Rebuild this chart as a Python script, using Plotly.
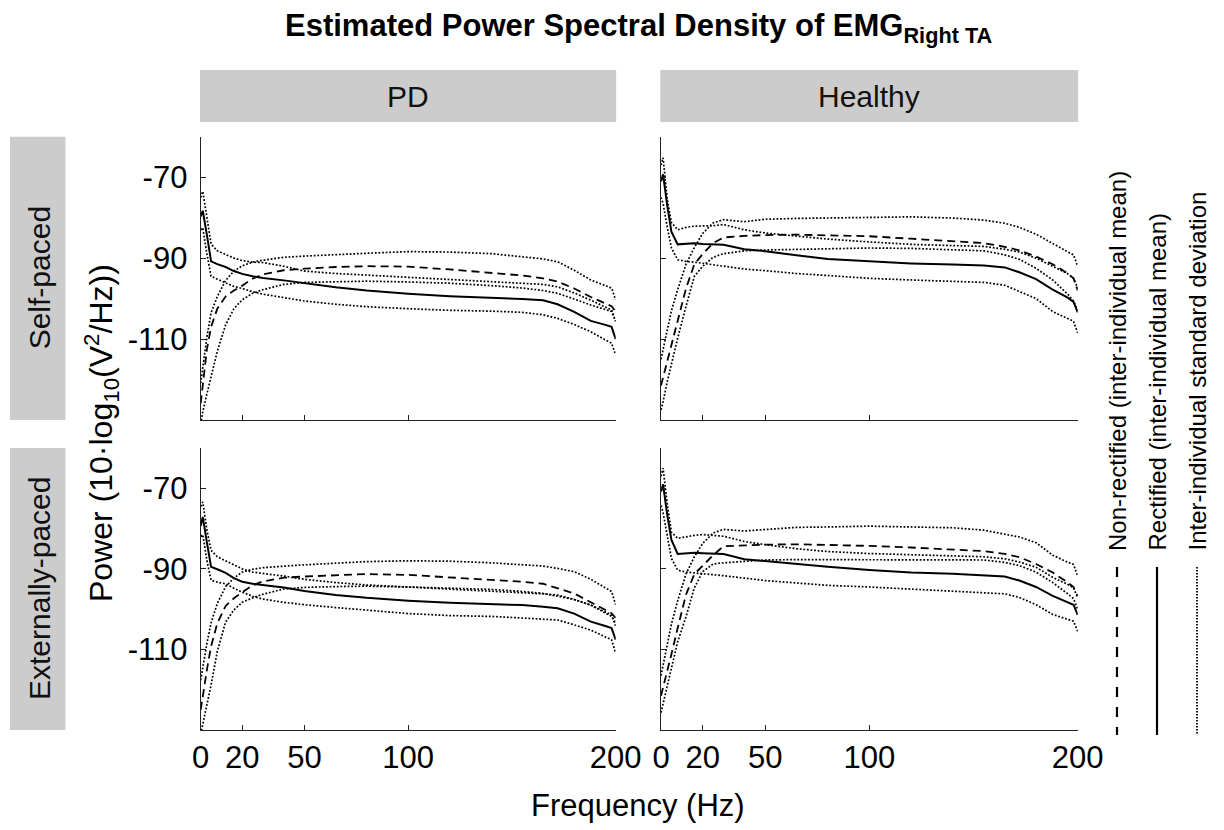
import plotly.graph_objects as go

# ---------------- data ----------------
FREQ = [0, 1, 3, 5, 8, 12, 16, 20, 25, 30, 40, 50, 65, 80, 100, 120, 140,
        155, 165, 172, 180, 188, 195, 198, 200]

COLUMNS = ["PD", "Healthy"]
ROWS = ["Self-paced", "Externally-paced"]
X_TICKS = [0, 20, 50, 100, 200]
Y_TICKS = [-70, -90, -110]

# PD, self-paced
PD_SELF_RECT = [-79.7, -78.3, -84.3, -90.8, -91.5, -92.2, -93.2, -93.9, -94.5, -94.9, -95.5, -96.2, -97.2,
                -98.0, -98.8, -99.4, -99.7, -100.1, -100.4, -101.4, -103.3, -105.5, -106.5, -107.0, -110.0]
PD_SELF_RECT_UP = [-75.0, -73.5, -80.0, -86.5, -88.2, -89.2, -90.0, -90.6, -91.0, -91.1, -92.0, -93.2, -93.8,
                   -94.2, -94.7, -95.2, -95.7, -96.1, -96.5, -97.1, -98.6, -100.4, -102.0, -102.8, -105.6]
PD_SELF_RECT_LO = [-83.0, -82.5, -89.0, -94.5, -95.2, -96.2, -97.0, -97.5, -98.3, -98.9, -99.8, -100.6, -101.4,
                   -102.0, -102.5, -102.9, -103.1, -103.4, -104.0, -104.9, -106.4, -108.2, -110.2, -111.0, -113.9]
PD_SELF_NONRECT = [-125.9, -121.0, -112.5, -107.0, -102.5, -99.5, -98.0, -96.8, -95.1, -94.0, -93.0, -92.6, -92.2,
                   -92.0, -92.1, -92.8, -93.7, -94.3, -95.0, -95.8, -97.5, -99.6, -101.2, -101.9, -103.2]
PD_SELF_NONRECT_UP = [-120.9, -117.0, -109.5, -103.5, -99.5, -95.5, -93.2, -91.9, -91.0, -90.5, -89.8, -89.5, -89.1,
                      -88.8, -88.4, -88.5, -88.9, -89.6, -90.2, -90.9, -93.0, -95.4, -96.9, -97.4, -100.3]
PD_SELF_NONRECT_LO = [-131.0, -128.0, -123.5, -119.0, -113.0, -106.5, -102.5, -100.3, -98.7, -97.8, -96.5, -96.0, -95.8,
                      -95.7, -95.9, -96.2, -96.8, -97.4, -98.0, -98.7, -100.1, -101.6, -102.7, -103.2, -105.6]

# Healthy, self-paced
HC_SELF_RECT = [-71.0, -69.3, -77.0, -83.5, -86.6, -86.4, -86.3, -86.5, -86.6, -86.7, -87.8, -88.3, -89.3,
                -90.2, -90.8, -91.3, -91.6, -91.8, -92.3, -93.5, -95.2, -97.8, -99.7, -100.8, -103.4]
HC_SELF_RECT_UP = [-67.0, -65.2, -75.5, -81.2, -83.0, -82.4, -82.1, -82.1, -82.0, -81.7, -83.0, -83.8, -84.5,
                   -85.3, -86.0, -86.6, -86.9, -87.1, -87.8, -88.5, -90.0, -92.0, -93.8, -95.0, -97.4]
HC_SELF_RECT_LO = [-75.0, -76.5, -82.3, -87.5, -90.4, -90.8, -91.0, -91.3, -91.5, -92.0, -92.7, -93.1, -93.8,
                   -94.3, -95.0, -95.4, -95.7, -96.0, -96.7, -98.2, -100.0, -103.2, -104.9, -105.6, -108.5]
HC_SELF_NONRECT = [-121.5, -119.5, -115.4, -111.3, -104.9, -97.5, -91.5, -89.0, -86.3, -84.9, -84.5, -84.3, -84.2,
                   -84.3, -84.6, -85.2, -85.8, -86.3, -87.2, -88.1, -89.6, -91.5, -93.7, -95.0, -98.0]
HC_SELF_NONRECT_UP = [-115.0, -112.5, -107.6, -103.0, -97.8, -91.5, -87.4, -83.9, -81.3, -80.5, -81.0, -80.4, -80.2,
                      -80.1, -79.9, -79.8, -80.1, -80.6, -81.4, -82.4, -84.1, -86.5, -88.4, -89.2, -92.0]
HC_SELF_NONRECT_LO = [-127.5, -125.5, -120.5, -116.0, -109.8, -101.9, -94.5, -92.0, -89.8, -88.9, -88.2, -88.0, -87.8,
                      -87.7, -87.5, -87.6, -87.9, -88.2, -89.2, -90.3, -92.5, -95.4, -98.8, -100.6, -102.8]

# PD, externally-paced
PD_EXT_RECT = [-79.4, -77.1, -83.5, -89.5, -90.1, -91.0, -92.3, -93.2, -93.7, -94.0, -94.6, -95.5, -96.5,
               -97.2, -97.9, -98.4, -98.8, -99.0, -99.4, -99.8, -101.1, -103.1, -104.2, -104.7, -107.6]
PD_EXT_RECT_UP = [-74.5, -73.4, -80.4, -85.4, -87.0, -88.0, -89.0, -90.0, -90.8, -91.1, -91.8, -92.6, -93.4,
                  -94.0, -94.5, -95.0, -95.6, -96.0, -96.2, -96.5, -97.6, -99.0, -100.6, -101.4, -104.3]
PD_EXT_RECT_LO = [-81.9, -81.5, -88.0, -92.8, -93.3, -93.7, -94.8, -95.8, -96.8, -97.5, -98.3, -98.9, -99.6,
                  -100.2, -101.1, -101.6, -101.8, -102.2, -102.5, -102.7, -103.9, -105.2, -106.9, -107.6, -110.9]
PD_EXT_NONRECT = [-125.0, -121.5, -115.0, -109.2, -103.5, -99.2, -97.3, -95.8, -94.1, -93.1, -92.2, -91.9, -91.6,
                  -91.3, -91.5, -92.1, -92.7, -93.2, -93.7, -94.8, -96.1, -98.3, -100.1, -101.0, -102.2]
PD_EXT_NONRECT_UP = [-117.6, -114.5, -108.5, -103.4, -98.6, -94.4, -92.3, -90.8, -90.1, -89.7, -89.3, -89.0, -88.6,
                     -88.2, -88.0, -88.1, -88.5, -89.0, -89.3, -89.9, -90.7, -92.6, -94.6, -95.6, -98.9]
PD_EXT_NONRECT_LO = [-131.0, -128.5, -124.0, -118.8, -110.5, -103.2, -100.2, -98.3, -97.2, -96.3, -95.0, -94.6, -94.4,
                     -94.3, -94.5, -94.8, -95.1, -95.6, -96.1, -96.8, -97.6, -99.0, -100.9, -101.8, -103.5]

# Healthy, externally-paced
HC_EXT_RECT = [-70.8, -69.0, -76.6, -82.8, -86.3, -86.2, -86.0, -86.1, -86.2, -86.3, -87.6, -88.1, -88.8,
               -89.5, -90.3, -90.9, -91.2, -91.6, -91.9, -92.9, -94.5, -96.7, -98.1, -98.9, -101.4]
HC_EXT_RECT_UP = [-67.0, -65.0, -73.9, -80.9, -82.4, -82.0, -81.7, -81.5, -81.7, -81.9, -83.2, -84.0, -85.0,
                  -85.7, -86.2, -86.5, -86.7, -87.0, -87.5, -88.3, -89.6, -92.1, -93.8, -94.7, -97.2]
HC_EXT_RECT_LO = [-74.3, -76.0, -81.8, -87.4, -90.3, -90.8, -91.0, -91.2, -91.3, -91.7, -92.3, -92.9, -93.5,
                  -94.1, -94.5, -95.0, -95.6, -95.8, -96.2, -97.1, -98.9, -101.3, -102.4, -103.0, -105.5]
HC_EXT_NONRECT = [-121.5, -119.5, -115.3, -111.2, -104.7, -96.4, -91.3, -89.2, -86.6, -84.4, -84.2, -84.0, -83.9,
                  -84.0, -84.3, -84.7, -85.2, -85.6, -86.3, -87.1, -88.8, -90.9, -93.3, -94.5, -96.8]
HC_EXT_NONRECT_UP = [-116.5, -114.0, -108.5, -103.7, -97.9, -91.3, -87.0, -83.7, -81.1, -80.2, -80.6, -80.2, -79.7,
                     -79.6, -79.4, -79.6, -79.8, -80.4, -81.3, -82.1, -83.5, -86.6, -88.3, -88.9, -91.8]
HC_EXT_NONRECT_LO = [-125.7, -123.5, -118.9, -114.2, -108.1, -101.9, -94.7, -90.7, -88.8, -88.5, -88.1, -87.8, -87.7,
                     -87.7, -87.7, -87.7, -87.8, -87.8, -88.4, -89.2, -90.8, -93.4, -96.1, -97.4, -100.0]

LEGEND_LABELS = ["Non-rectified (inter-individual mean)",
                 "Rectified (inter-individual mean)",
                 "Inter-individual standard deviation"]

# ---------------- layout helpers ----------------
W, H = 1224, 830
FONT = "Liberation Sans, Arial, Helvetica, sans-serif"


def px_x(p):
    return p / W


def px_y(p):
    return 1 - p / H


COL_X = [(200.7, 615.7), (661.0, 1077.7)]
ROW_Y = [(136.7, 420.0), (448.0, 730.0)]

panels = [
    (0, 0, PD_SELF_RECT, PD_SELF_RECT_UP, PD_SELF_RECT_LO, PD_SELF_NONRECT, PD_SELF_NONRECT_UP, PD_SELF_NONRECT_LO),
    (0, 1, HC_SELF_RECT, HC_SELF_RECT_UP, HC_SELF_RECT_LO, HC_SELF_NONRECT, HC_SELF_NONRECT_UP, HC_SELF_NONRECT_LO),
    (1, 0, PD_EXT_RECT, PD_EXT_RECT_UP, PD_EXT_RECT_LO, PD_EXT_NONRECT, PD_EXT_NONRECT_UP, PD_EXT_NONRECT_LO),
    (1, 1, HC_EXT_RECT, HC_EXT_RECT_UP, HC_EXT_RECT_LO, HC_EXT_NONRECT, HC_EXT_NONRECT_UP, HC_EXT_NONRECT_LO),
]

fig = go.Figure()
layout = dict(
    width=W, height=H, autosize=False,
    margin=dict(l=0, r=0, t=0, b=0, pad=0, autoexpand=False),
    paper_bgcolor="white", plot_bgcolor="white",
    showlegend=False,
    font=dict(family=FONT, color="black", size=30),
)

DOT = "1.8px,1.8px"
for i, (r, c, rect, rup, rlo, nr, nup, nlo) in enumerate(panels):
    k = "" if i == 0 else str(i + 1)
    xa, ya = "x" + k, "y" + k
    for vals, dash, wdt in [(rup, DOT, 1.7), (rlo, DOT, 1.7), (nup, DOT, 1.7), (nlo, DOT, 1.7),
                            (nr, "8px,5px", 1.8), (rect, "solid", 2.0)]:
        fig.add_trace(go.Scatter(x=FREQ, y=vals, mode="lines", xaxis=xa, yaxis=ya,
                                 line=dict(color="black", width=wdt, dash=dash),
                                 hoverinfo="skip"))
    x0, x1 = COL_X[c]
    y0, y1 = ROW_Y[r]
    layout["xaxis" + k] = dict(
        domain=[px_x(x0), px_x(x1)], anchor=ya, range=[0, 200], automargin=False,
        tickvals=X_TICKS, ticktext=[str(t) for t in X_TICKS],
        showticklabels=(r == 1), ticks="inside", ticklen=5, tickwidth=1.2, tickcolor="#222",
        showline=True, linecolor="#222", linewidth=1.2, showgrid=False, zeroline=False,
        tickfont=dict(size=31, family=FONT, color="black"),
    )
    layout["yaxis" + k] = dict(
        domain=[px_y(y1), px_y(y0)], anchor=xa, range=[-130, -60], automargin=False,
        tickvals=Y_TICKS, ticktext=[str(t) for t in Y_TICKS],
        showticklabels=(c == 0), ticks="inside", ticklen=5, tickwidth=1.2, tickcolor="#222",
        showline=True, linecolor="#222", linewidth=1.2, showgrid=False, zeroline=False,
        tickfont=dict(size=31, family=FONT, color="black"), ticklabelstandoff=6,
    )

shapes = []
annotations = []
STRIP = "#cccccc"
# column strips
for c, name in enumerate(COLUMNS):
    x0, x1 = COL_X[c]
    shapes.append(dict(type="rect", xref="paper", yref="paper", x0=px_x(x0 - 0.7), x1=px_x(x1 + 0.5),
                       y0=px_y(122), y1=px_y(70), fillcolor=STRIP, line=dict(width=0), layer="below"))
    annotations.append(dict(text=name, xref="paper", yref="paper", x=px_x((x0 + x1) / 2), y=px_y(97),
                            xanchor="center", yanchor="middle", showarrow=False,
                            font=dict(size=30, family=FONT, color="#111")))
# row strips
for r, name in enumerate(ROWS):
    y0, y1 = ROW_Y[r]
    shapes.append(dict(type="rect", xref="paper", yref="paper", x0=px_x(10), x1=px_x(65.5),
                       y0=px_y(y1), y1=px_y(y0), fillcolor=STRIP, line=dict(width=0), layer="below"))
    annotations.append(dict(text=name, xref="paper", yref="paper", x=px_x(39), y=px_y((y0 + y1) / 2),
                            xanchor="center", yanchor="middle", showarrow=False, textangle=-90,
                            font=dict(size=30, family=FONT, color="#111")))

# title
annotations.append(dict(text="<b>Estimated Power Spectral Density of EMG<sub>Right TA</sub></b>",
                        xref="paper", yref="paper", x=px_x(639), y=px_y(28),
                        xanchor="center", yanchor="middle", showarrow=False,
                        font=dict(size=31, family=FONT, color="black")))
# axis titles
annotations.append(dict(text="Frequency (Hz)", xref="paper", yref="paper", x=px_x(638), y=px_y(805),
                        xanchor="center", yanchor="middle", showarrow=False,
                        font=dict(size=31, family=FONT, color="black")))
annotations.append(dict(text="Power (10·log<sub>10</sub>(V<sup>2</sup>/Hz))", xref="paper", yref="paper",
                        x=px_x(101), y=px_y(433), xanchor="center", yanchor="middle", showarrow=False,
                        textangle=-90, font=dict(size=32, family=FONT, color="black")))

# legend (rotated labels with line samples beneath)
LEG_X = [1117, 1157, 1197]
LEG_DASH = ["10px,10px", "solid", "1.5px,1.5px"]
LEG_W = [2.2, 2.2, 1.8]
for lx, lab, dsh, lw in zip(LEG_X, LEGEND_LABELS, LEG_DASH, LEG_W):
    annotations.append(dict(text=lab, xref="paper", yref="paper", x=px_x(lx), y=px_y(553),
                            xanchor="center", yanchor="bottom", showarrow=False, textangle=-90,
                            font=dict(size=24, family=FONT, color="black")))
    shapes.append(dict(type="line", xref="paper", yref="paper", x0=px_x(lx), x1=px_x(lx),
                       y0=px_y(567), y1=px_y(735), line=dict(color="black", width=lw, dash=dsh)))

layout["shapes"] = shapes
layout["annotations"] = annotations
fig.update_layout(**layout)
fig.write_html("out.html", config={"responsive": False})
